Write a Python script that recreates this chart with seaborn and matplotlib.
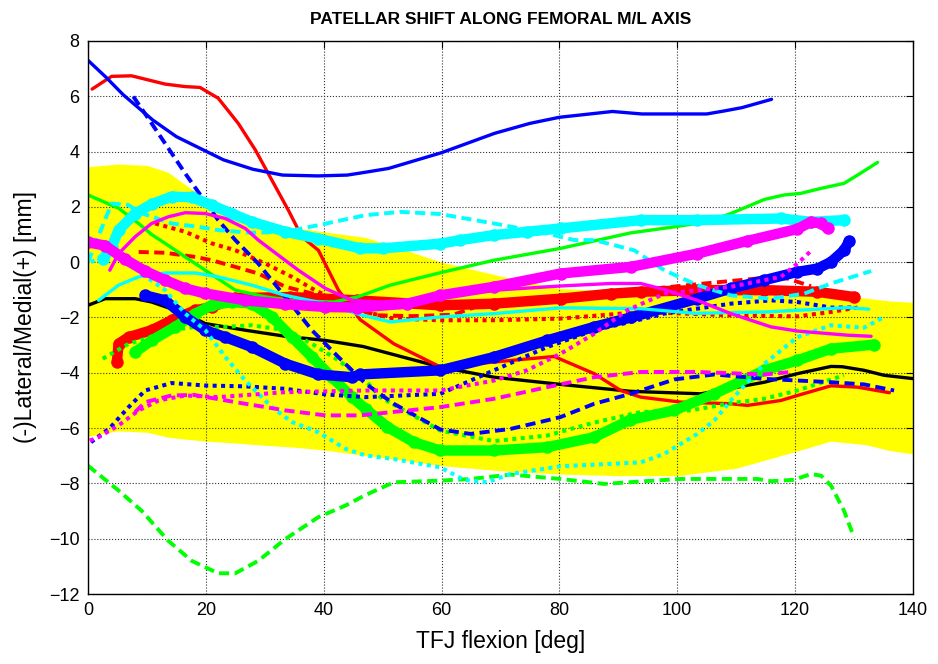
import matplotlib
matplotlib.use("Agg")
import matplotlib.pyplot as plt
import seaborn as sns

# ---------------- corridor (yellow band) ----------------
band_x = [0, 5, 10, 13.6, 16.5, 20, 25, 30, 35, 40, 47, 53, 60, 70, 80, 90, 100, 110, 120, 126, 132, 136, 140]
band_hi = [3.45, 3.55, 3.5, 3.25, 2.8, 2.3, 1.8, 1.45, 1.25, 1.1, 0.9, 0.5, 0.0, -0.5, -0.95, -1.05, -1.1,
           -1.15, -1.2, -1.25, -1.3, -1.4, -1.45]
band_lo = [-6.3, -6.1, -6.15, -6.33, -6.4, -6.47, -6.54, -6.62, -6.69, -6.79, -6.99, -7.15, -7.36, -7.54,
           -7.66, -7.72, -7.72, -7.45, -6.85, -6.47, -6.6, -6.81, -6.93]

# ---------------- black ----------------
black_x = [0, 2.9, 8, 10.8, 16.5, 19.9, 26.7, 33.5, 40.3, 46.7, 59.8, 68.9, 80.2, 92.1, 104, 114.8, 120.4,
           126.1, 128, 131.7, 135.1, 140]
black_y = [-1.56, -1.32, -1.32, -1.44, -1.86, -2.22, -2.46, -2.68, -2.83, -3.05, -3.79, -4.16, -4.42, -4.67,
           -4.76, -4.34, -4.03, -3.77, -3.78, -3.91, -4.09, -4.21]

# ---------------- red ----------------
red_solid_x = [0.7, 4, 7.4, 13.1, 16.5, 19, 22.1, 25.5, 28.4, 31.2, 34, 36.3, 39.1, 42.5, 46.2, 51.9, 59.8,
               79.1, 85.9, 90.4, 93.8, 100.6, 109.1, 111.9, 117.6, 120.4, 126.1, 130.6, 136]
red_solid_y = [6.26, 6.72, 6.74, 6.44, 6.35, 6.32, 5.93, 5.02, 4.06, 2.97, 1.88, 0.92, 0.43, -1.01, -2.08,
               -2.95, -3.79, -3.41, -4.03, -4.64, -4.88, -5.06, -5.12, -5.18, -5.0, -4.82, -4.47, -4.52, -4.72]
red_dash_x = [8.6, 13.1, 18.2, 21, 25, 28.9, 33.5, 38, 42.5, 46.5, 49, 55, 62, 66, 72, 80.2, 88.7, 94,
              104.6, 113.6, 118.7, 122.7]
red_dash_y = [0.37, 0.34, 0.19, 0.07, -0.17, -0.41, -0.89, -1.13, -1.4, -1.75, -1.92, -1.95, -1.9, -1.6,
              -1.4, -1.25, -1.15, -1.0, -0.77, -0.59, -0.59, -0.87]
red_dot_x = [11.4, 16.5, 21, 25, 30.1, 34.6, 38, 42.5, 47.1, 51.9, 59.8, 68.9, 80.2, 88.7, 93.8, 109.1,
             120.4, 126.1, 130.6]
red_dot_y = [1.4, 1.1, 0.68, 0.43, -0.05, -0.53, -0.95, -1.44, -1.8, -2.04, -2.1, -2.1, -2.04, -1.89, -1.8,
             -1.92, -1.96, -1.8, -1.64]
red_circ_x = [4.9, 5.2, 6.9, 10.8, 14.2, 18.2, 21, 25, 34.3, 45.7, 59.8, 68.9, 80.2, 88.7, 93.8, 103.4,
              114.8, 123.8, 130]
red_circ_y = [-3.61, -2.95, -2.71, -2.46, -2.1, -1.74, -1.62, -1.3, -1.26, -1.38, -1.56, -1.5, -1.32, -1.14,
              -1.07, -1.01, -1.01, -1.07, -1.26]

# ---------------- green ----------------
green_solid_x = [0, 5.2, 8.6, 10.8, 13.1, 16.5, 19.9, 25, 30, 35, 41.7, 45.7, 51.3, 59.8, 68.9, 80.2, 92.1,
                 98.9, 105.1, 109.1, 114.8, 118.1, 121, 124.4, 128.3, 130.6, 134]
green_solid_y = [2.43, 1.95, 1.4, 1.0, 0.68, 0.19, -0.29, -1.01, -1.25, -1.4, -1.44, -1.26, -0.83, -0.38,
                 0.07, 0.5, 1.06, 1.26, 1.46, 1.76, 2.27, 2.43, 2.49, 2.67, 2.85, 3.15, 3.61]
green_dash_x = [0, 5.2, 9.1, 13.6, 17.6, 22.1, 25, 28.9, 33.5, 39.1, 43.7, 47.1, 51.9, 59.8, 64.9, 71.7,
                80.2, 87.6, 93.8, 100.6, 113.6, 115.9, 119.8, 122.7, 124.4, 126.1, 128.3, 130]
green_dash_y = [-7.36, -8.26, -8.99, -10.07, -10.8, -11.25, -11.25, -10.8, -10.01, -9.22, -8.8, -8.42,
                -7.96, -7.9, -7.84, -7.68, -7.84, -8.02, -7.93, -7.84, -7.84, -7.92, -7.87, -7.66, -7.72,
                -8.08, -8.99, -9.95]
green_dot_x = [2.5, 6.9, 10.8, 14.2, 18.2, 23.3, 27.8, 33.5, 38, 42.5, 47.1, 49.6, 59.8, 68.9, 77.9, 85.9,
               93.8, 102.3, 109.1, 114.8, 120.4, 128.3]
green_dot_y = [-3.49, -2.95, -2.71, -2.46, -2.34, -2.34, -2.28, -2.46, -2.95, -3.55, -4.28, -4.88, -6.09,
               -6.47, -6.27, -5.8, -5.42, -5.36, -5.1, -4.94, -4.64, -4.09]
green_circ_x = [8, 10.8, 14.8, 18.2, 21, 24.4, 27.8, 31.2, 34.6, 38, 41.4, 44.8, 47.1, 50.8, 55.3, 59.8,
                68.9, 77.9, 85.9, 92, 99.5, 106.3, 114.8, 120.4, 126.1, 133.4]
green_circ_y = [-3.25, -2.83, -2.34, -1.86, -1.56, -1.44, -1.5, -1.98, -2.71, -3.43, -4.16, -4.88, -5.3,
                -5.96, -6.51, -6.81, -6.81, -6.69, -6.33, -5.7, -5.36, -4.76, -3.91, -3.55, -3.13, -2.98]

# ---------------- blue ----------------
blue_solid_x = [0, 3, 6, 11, 15, 19, 23, 28, 33, 39, 44, 47, 51, 60, 69, 75, 80, 86, 89, 94, 105, 108, 111,
                116]
blue_solid_y = [7.3, 6.7, 6.05, 5.14, 4.54, 4.12, 3.7, 3.36, 3.15, 3.12, 3.15, 3.25, 3.39, 3.96, 4.66, 5.02,
                5.24, 5.38, 5.45, 5.36, 5.36, 5.47, 5.59, 5.89]
blue_dash_x = [7.7, 10.8, 16.5, 22.1, 25, 28.9, 33.5, 38, 42.5, 47.1, 51.9, 59.8, 64.9, 71.7, 77.9, 80.2,
               85.9, 92.1, 99.5, 106.3, 114.8, 126.1, 131.7, 136.8]
blue_dash_y = [5.99, 5.02, 3.21, 1.52, 0.8, -0.05, -1.26, -2.46, -3.43, -4.39, -5.12, -6.05, -6.21, -6.03,
               -5.72, -5.6, -5.12, -4.76, -4.24, -4.06, -4.22, -4.34, -4.42, -4.64]
blue_dot_x = [0.5, 3.7, 6.9, 9.7, 14.2, 19.9, 26.7, 33.5, 40.3, 47.1, 59.8, 68.9, 77.9, 85.9, 92.1, 97.8,
              103.4, 109.1, 115.9, 120.4, 126.1, 129.5]
blue_dot_y = [-6.51, -6.0, -5.24, -4.64, -4.37, -4.46, -4.49, -4.58, -4.78, -4.88, -4.76, -3.91, -3.07,
              -2.46, -2.16, -1.86, -1.68, -1.5, -1.38, -1.44, -1.64, -1.64]
blue_circ_x = [9.7, 13.1, 16.5, 19.9, 23.3, 27.8, 33.5, 39.1, 44.8, 46.2, 59.8, 68.9, 77.9, 85.9, 92.1,
               103.4, 109.1, 114.8, 120.4, 123.8, 126.1, 128.3, 129.2]
blue_circ_y = [-1.2, -1.38, -1.98, -2.46, -2.71, -3.07, -3.67, -4.06, -4.16, -4.06, -3.91, -3.43, -2.83,
               -2.34, -2.0, -1.32, -0.95, -0.65, -0.35, -0.23, 0.01, 0.43, 0.77]

# ---------------- cyan ----------------
cyan_solid_x = [1.8, 5.2, 8.6, 13.1, 18.2, 22.1, 27.8, 33.5, 40.3, 46.2, 51.3, 59.8, 68.9, 80.2, 93.8, 103,
                115, 120.4, 128.9, 132.5]
cyan_solid_y = [-1.38, -0.83, -0.53, -0.39, -0.39, -0.53, -0.83, -1.2, -1.5, -1.9, -2.16, -1.98, -1.86,
                -1.65, -1.68, -1.85, -1.8, -1.74, -1.64, -1.7]
cyan_dash_x = [0, 4, 6.8, 9, 14.2, 18.7, 22.1, 27.8, 33.5, 39.1, 47.1, 53, 59.8, 68.9, 77.9, 82.5, 85.9,
               92.7, 97.8, 103.4, 109.1, 115.9, 121.5, 126.1, 132.9]
cyan_dash_y = [0.0, 2.12, 2.07, 1.78, 1.4, 1.28, 1.16, 1.06, 1.1, 1.34, 1.7, 1.82, 1.74, 1.4, 1.04, 0.8,
               0.8, 0.43, -0.29, -0.83, -1.2, -1.32, -1.14, -0.77, -0.32]
cyan_dot_x = [0.5, 3, 6, 9, 13.1, 16.5, 19.9, 23.3, 26.7, 31.2, 34.6, 39.1, 43.7, 47.1, 51.9, 59.8, 63.8,
              67.7, 71.7, 80.2, 93.8, 97.8, 103.4, 106.3, 109.1, 114.8, 120.4, 126.1, 131.7, 135.1]
cyan_dot_y = [0.0, 0.3, 0.1, -0.4, -1.01, -1.86, -2.46, -3.43, -4.28, -5.24, -5.78, -6.15, -6.75, -6.99,
              -7.12, -7.42, -7.87, -7.96, -7.66, -7.38, -7.24, -6.93, -6.21, -5.72, -5.0, -3.67, -2.71,
              -2.28, -2.37, -1.98]
cyan_circ_x = [2.5, 4, 5.2, 8, 10.8, 14.2, 17.6, 21, 24.4, 27.8, 33.5, 39.1, 46.2, 50, 59.8, 63.2, 68.9,
               74.5, 80.2, 93.8, 103.4, 117.6, 122.7, 128.3]
cyan_circ_y = [0.1, 0.55, 1.16, 1.76, 2.1, 2.37, 2.35, 2.06, 1.76, 1.46, 1.1, 0.85, 0.5, 0.5, 0.67, 0.8,
               0.98, 1.1, 1.22, 1.52, 1.52, 1.58, 1.46, 1.52]

# ---------------- magenta ----------------
mag_solid_x = [3.7, 5.2, 8, 10.8, 13.6, 16.5, 19.9, 23.3, 26.7, 28.9, 31.2, 35.7, 40.3, 44.8, 50, 55, 63.2,
               70, 80.2, 88.7, 93.8, 97.8, 103.4, 109.1, 115.9, 120.4, 128.9, 132.9]
mag_solid_y = [-0.29, 0.31, 0.92, 1.4, 1.64, 1.79, 1.76, 1.58, 1.22, 0.8, 0.43, -0.29, -0.95, -1.38, -1.45,
               -1.35, -1.15, -1.0, -0.86, -0.77, -0.77, -0.99, -1.38, -1.86, -2.34, -2.49, -2.64, -2.68]
mag_dash_x = [8, 9.7, 14.2, 18, 25, 33.5, 40.3, 46.2, 59.8, 68.9, 77.9, 85.9, 93.8, 103.4, 114.8, 119.3]
mag_dash_y = [-5.42, -5.06, -4.82, -4.8, -5.06, -5.36, -5.54, -5.54, -5.24, -4.94, -4.52, -4.16, -3.97,
              -3.97, -4.06, -3.97]
mag_dot_x = [0.3, 1.8, 5.2, 8.6, 12, 16.5, 22.1, 33.5, 47.1, 59.8, 68.9, 74.5, 80.2, 85.9, 91.5, 97.8,
             109.1, 117.6, 120.4, 122.7]
mag_dot_y = [-6.45, -6.33, -5.9, -5.36, -5.0, -4.82, -4.88, -4.7, -4.64, -4.64, -4.28, -3.91, -3.31, -2.59,
             -1.74, -1.14, -0.89, -0.53, -0.05, 0.41]
mag_circ_x = [0, 2.9, 6.3, 9.7, 13.1, 16.5, 19.9, 26.7, 33.5, 40.3, 45.7, 54.2, 59.8, 68.9, 80.2, 92.1,
              103.4, 111.9, 120.4, 122.7, 124.4, 125.5]
mag_circ_y = [0.72, 0.6, 0.1, -0.32, -0.65, -0.95, -1.13, -1.38, -1.52, -1.62, -1.64, -1.5, -1.2, -0.89,
              -0.41, -0.17, 0.31, 0.77, 1.2, 1.46, 1.40, 1.22]

x_ticks = [0, 20, 40, 60, 80, 100, 120, 140]
y_ticks = [-12, -10, -8, -6, -4, -2, 0, 2, 4, 6, 8]

# ---------------- styling ----------------
sns.set_theme(style="white")
plt.rcParams["font.family"] = ["Liberation Sans", "DejaVu Sans"]
plt.rcParams["text.color"] = "black"
plt.rcParams["axes.labelcolor"] = "black"
plt.rcParams["xtick.color"] = "black"
plt.rcParams["ytick.color"] = "black"

line_styles = {
    "solid": dict(linewidth=2.4, linestyle="-"),
    "dashed": dict(linewidth=2.8, linestyle=(0, (2.6, 1.4))),
    "dotted": dict(linewidth=2.9, linestyle=(0, (1.0, 1.1))),
    "circles": dict(linewidth=7.5, linestyle="-", marker="o", markersize=9,
                    solid_capstyle="round", solid_joinstyle="round"),
}

curves = [
    (black_x, black_y, "#000000", "solid"),
    (red_solid_x, red_solid_y, "#ff0000", "solid"),
    (red_dash_x, red_dash_y, "#ff0000", "dashed"),
    (red_dot_x, red_dot_y, "#ff0000", "dotted"),
    (red_circ_x, red_circ_y, "#ff0000", "circles"),
    (green_solid_x, green_solid_y, "#00ff00", "solid"),
    (green_dash_x, green_dash_y, "#00ff00", "dashed"),
    (green_dot_x, green_dot_y, "#00ff00", "dotted"),
    (green_circ_x, green_circ_y, "#00ff00", "circles"),
    (blue_solid_x, blue_solid_y, "#0000ff", "solid"),
    (blue_dash_x, blue_dash_y, "#0000ff", "dashed"),
    (blue_circ_x, blue_circ_y, "#0000ff", "circles"),
    (blue_dot_x, blue_dot_y, "#0000ff", "dotted"),
    (cyan_solid_x, cyan_solid_y, "#00ffff", "solid"),
    (cyan_dash_x, cyan_dash_y, "#00ffff", "dashed"),
    (cyan_circ_x, cyan_circ_y, "#00ffff", "circles"),
    (cyan_dot_x, cyan_dot_y, "#00ffff", "dotted"),
    (mag_solid_x, mag_solid_y, "#ff00ff", "solid"),
    (mag_dash_x, mag_dash_y, "#ff00ff", "dashed"),
    (mag_circ_x, mag_circ_y, "#ff00ff", "circles"),
    (mag_dot_x, mag_dot_y, "#ff00ff", "dotted"),
]

fig = plt.figure(figsize=(9.38, 6.64), dpi=100)
ax = fig.add_axes([0.0938, 0.1054, 0.8795, 0.8329])

ax.fill_between(band_x, band_lo, band_hi, color="#ffff00", linewidth=0, zorder=1)

for xs, ys, col, kind in curves:
    sns.lineplot(x=xs, y=ys, color=col, sort=False, estimator=None, ax=ax,
                 markeredgewidth=0, **line_styles[kind])

ax.set_xlim(0, 140)
ax.set_ylim(-12, 8)
ax.set_xticks(x_ticks)
ax.set_yticks(y_ticks)
ax.set_axisbelow("line")
ax.grid(True, linestyle=":", color="#303030", linewidth=0.8)
ax.tick_params(direction="in", top=True, right=True, length=5, width=0.8,
               labelsize=13, colors="black", pad=6)
for sp in ax.spines.values():
    sp.set_color("black")
    sp.set_linewidth(1.0)

ax.set_title("PATELLAR SHIFT ALONG FEMORAL M/L AXIS", fontsize=12.5, fontweight="bold",
             color="black", pad=12)
ax.set_xlabel("TFJ flexion [deg]", fontsize=16.5, labelpad=8)
ax.set_ylabel("(-)Lateral/Medial(+) [mm]", fontsize=16.5, labelpad=9)

fig.savefig("out.png", dpi=100, facecolor="white")
